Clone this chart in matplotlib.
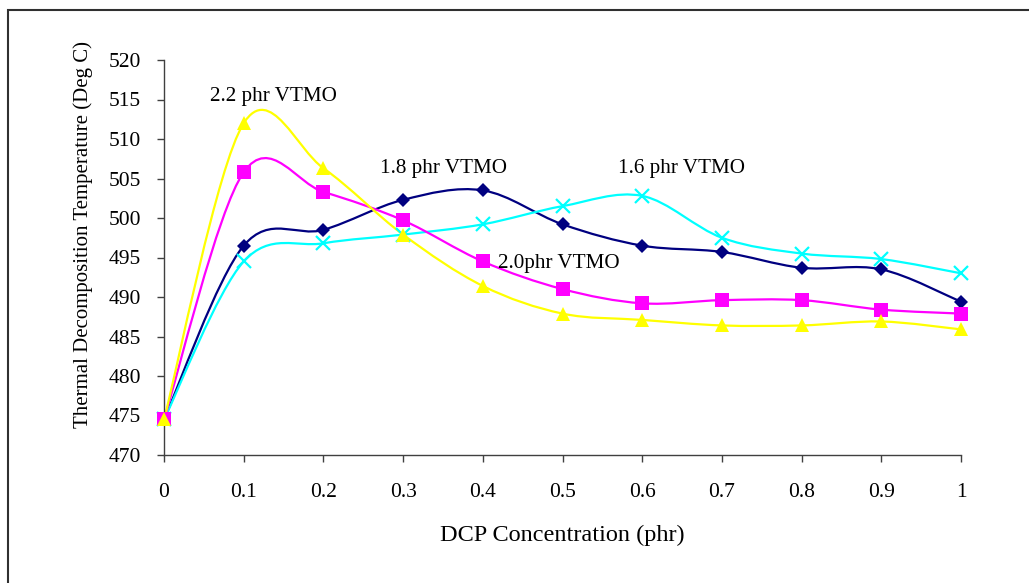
import matplotlib
matplotlib.use('Agg')
import matplotlib.pyplot as plt
from matplotlib.path import Path
from matplotlib.patches import PathPatch, Rectangle
import numpy as np

plt.rcParams['font.family'] = ['Liberation Serif', 'DejaVu Serif']

dcp = [0, 0.1, 0.2, 0.3, 0.4, 0.5, 0.6, 0.7, 0.8, 0.9, 1.0]
vtmo_18 = [474.5, 496.5, 498.5, 502.3, 503.5, 499.2, 496.5, 495.7, 493.7, 493.5, 489.4]
vtmo_16 = [474.5, 494.5, 496.8, 497.9, 499.2, 501.5, 502.8, 497.5, 495.5, 494.8, 493.0]
vtmo_20 = [474.5, 505.8, 503.3, 499.7, 494.5, 491.0, 489.2, 489.6, 489.6, 488.4, 487.9]
vtmo_22 = [474.5, 512.0, 506.3, 497.9, 491.4, 487.9, 487.1, 486.4, 486.4, 486.9, 485.9]

series = [
    (vtmo_18, '#000080', 'D', 7),
    (vtmo_16, '#00FFFF', 'x', 10),
    (vtmo_20, '#FF00FF', 's', 10),
    (vtmo_22, '#FFFF00', '^', 10),
]


def smooth_path(x, y):
    # Excel-style smoothed line: Catmull-Rom segments drawn as cubic Beziers
    p = np.column_stack([x, y]).astype(float)
    verts = [p[0]]
    codes = [Path.MOVETO]
    n = len(p)
    for i in range(n - 1):
        p0 = p[i - 1] if i > 0 else p[i]
        p3 = p[i + 2] if i + 2 < n else p[i + 1]
        c1 = p[i] + (p[i + 1] - p0) / 6.0
        c2 = p[i + 1] - (p3 - p[i]) / 6.0
        verts += [c1, c2, p[i + 1]]
        codes += [Path.CURVE4] * 3
    return Path(verts, codes)


fig = plt.figure(figsize=(10.29, 5.83), dpi=100)
ax = fig.add_axes([164 / 1029, 1 - 455 / 583, 797 / 1029, 395 / 583])

for vals, col, mk, ms in series:
    ax.add_patch(PathPatch(smooth_path(dcp, vals), fill=False, edgecolor=col, lw=1.6, zorder=2))
for vals, col, mk, ms in series:
    if mk == 'x':
        ax.plot(dcp, vals, ls='none', marker=mk, ms=ms, mew=1.6, color=col, zorder=3, clip_on=False)
    else:
        ax.plot(dcp, vals, ls='none', marker=mk, ms=ms, mew=0, color=col, zorder=3, clip_on=False)

ax.set_xlim(0, 1)
ax.set_ylim(470, 520)
ax.set_xticks(dcp)
ax.set_xticklabels(['0', '0.1', '0.2', '0.3', '0.4', '0.5', '0.6', '0.7', '0.8', '0.9', '1'])
ax.set_yticks(range(470, 521, 5))
ax.spines['top'].set_visible(False)
ax.spines['right'].set_visible(False)
for s in ['left', 'bottom']:
    ax.spines[s].set_color('#404040')
    ax.spines[s].set_linewidth(1.0)
ax.tick_params(direction='out', length=5, width=1.0, color='#404040', labelsize=15.5)
ax.tick_params(axis='x', pad=15)
ax.tick_params(axis='y', pad=11.5)

ax.set_xlabel('DCP Concentration (phr)', fontsize=17.5, labelpad=16.5)
fig.text(83 / 1029, 1 - 235 / 583, 'Thermal Decomposition Temperature (Deg C)',
         rotation=90, ha='center', va='center', fontsize=15)

ax.text(0.058, 515.4, '2.2 phr VTMO', fontsize=15.2, ha='left', va='center')
ax.text(0.271, 506.3, '1.8 phr VTMO', fontsize=15.2, ha='left', va='center')
ax.text(0.570, 506.3, '1.6 phr VTMO', fontsize=15.2, ha='left', va='center')
ax.text(0.419, 494.3, '2.0phr VTMO', fontsize=15.2, ha='left', va='center')

fig.patches.append(Rectangle((8 / 1029, -0.1), 1.2, 1.1 - 10.5 / 583, transform=fig.transFigure,
                             fill=False, edgecolor='#303030', lw=1.5))

fig.savefig('out.png', dpi=100)
